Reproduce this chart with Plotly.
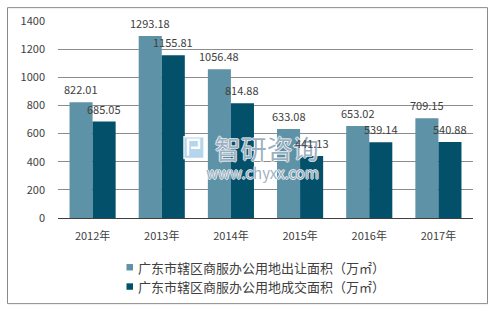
import plotly.graph_objects as go

categories = ["2012年", "2013年", "2014年", "2015年", "2016年", "2017年"]
transfer_area = [822.01, 1293.18, 1056.48, 633.08, 653.02, 709.15]
deal_area = [685.05, 1155.81, 814.88, 441.13, 539.14, 540.88]
series_names = ["广东市辖区商服办公用地出让面积（万㎡）", "广东市辖区商服办公用地成交面积（万㎡）"]
series_colors = ["#5e92a7", "#02506a"]
y_ticks = [0, 200, 400, 600, 800, 1000, 1200, 1400]

FONT = "Noto Sans CJK SC, Noto Sans, sans-serif"
W, H = 499, 311
L, R, T, B = 58, 26, 19, 93
pw, ph = W - L - R, H - T - B


def px_to_paper_x(x):
    return (x - L) / pw


def px_to_paper_y(y):
    return (H - B - y) / ph


fig = go.Figure()
for name, vals, col in zip(series_names, [transfer_area, deal_area], series_colors):
    fig.add_trace(go.Bar(
        x=categories, y=vals, name=name,
        marker=dict(color=col, line=dict(width=0)),
        showlegend=False,
    ))

# watermark (drawn first so data labels sit on top)
wm_col = "rgba(125,150,172,0.75)"
halo = "1px 0 0 #fff, -1px 0 0 #fff, 0 1px 0 #fff, 0 -1px 0 #fff"
fig.add_shape(
    type="rect", xref="paper", yref="paper",
    x0=px_to_paper_x(184), x1=px_to_paper_x(204),
    y0=px_to_paper_y(158), y1=px_to_paper_y(136),
    fillcolor="rgba(150,195,230,0.7)", line=dict(color="rgba(255,255,255,0.9)", width=1.5),
)
fig.add_shape(
    type="path", xref="paper", yref="paper",
    path=(f"M {px_to_paper_x(188)},{px_to_paper_y(155)} L {px_to_paper_x(188)},{px_to_paper_y(139)} "
          f"L {px_to_paper_x(199)},{px_to_paper_y(139)} L {px_to_paper_x(199)},{px_to_paper_y(147)} "
          f"L {px_to_paper_x(191)},{px_to_paper_y(147)}"),
    line=dict(color="rgba(255,255,255,0.95)", width=2.5),
)
fig.add_annotation(
    xref="paper", yref="paper", x=px_to_paper_x(321), y=px_to_paper_y(155),
    text="<span style='font-size:26px'>智研咨询</span><br>www.chyxx.com",
    showarrow=False, xanchor="right", yanchor="middle", align="right",
    font=dict(size=15, color=wm_col, family=FONT, shadow=halo),
)

# data labels (centred ~13px above the bar top)
bar_w_px = pw / len(categories) / 3
for vals, dx in [(transfer_area, -bar_w_px / 2), (deal_area, bar_w_px / 2)]:
    for c, v in zip(categories, vals):
        fig.add_annotation(
            x=c, y=v, xref="x", yref="y", text=f"{v:.2f}", showarrow=False,
            xshift=dx, yshift=13, xanchor="center", yanchor="middle",
            font=dict(size=11, color="#404040", family=FONT),
        )

fig.update_layout(
    width=W, height=H,
    margin=dict(l=L, r=R, t=T, b=B),
    paper_bgcolor="white", plot_bgcolor="white",
    barmode="group", bargap=1/3, bargroupgap=0,
    font=dict(family=FONT, size=11, color="#404040"),
    showlegend=False,
    xaxis=dict(
        showgrid=False, showline=True, linecolor="#404040", linewidth=1,
        ticks="", tickfont=dict(size=11, color="#404040"), ticklabelstandoff=8,
    ),
    yaxis=dict(
        range=[0, 1400], tickvals=y_ticks, showgrid=True, gridcolor="#8c8c8c",
        gridwidth=1, zeroline=False, showline=False, ticks="",
        tickfont=dict(size=11, color="#404040"), ticklabelstandoff=12,
    ),
)

# outer chart border
fig.add_shape(
    type="rect", xref="paper", yref="paper",
    x0=px_to_paper_x(7.5), x1=px_to_paper_x(487.5),
    y0=px_to_paper_y(304.5), y1=px_to_paper_y(5.5),
    line=dict(color="#8a8a8a", width=1), fillcolor="rgba(0,0,0,0)", layer="below",
)

# custom legend
for i, (name, col) in enumerate(zip(series_names, series_colors)):
    yc = 268 + i * 19.5
    fig.add_shape(
        type="rect", xref="paper", yref="paper",
        x0=px_to_paper_x(126.5), x1=px_to_paper_x(133),
        y0=px_to_paper_y(yc + 3), y1=px_to_paper_y(yc - 3.5),
        fillcolor=col, line=dict(width=0),
    )
    fig.add_annotation(
        xref="paper", yref="paper", x=px_to_paper_x(136), y=px_to_paper_y(yc),
        text=name, showarrow=False, xanchor="left", yanchor="middle",
        font=dict(size=13, color="#404040", family=FONT),
    )

fig.write_html("out.html")
